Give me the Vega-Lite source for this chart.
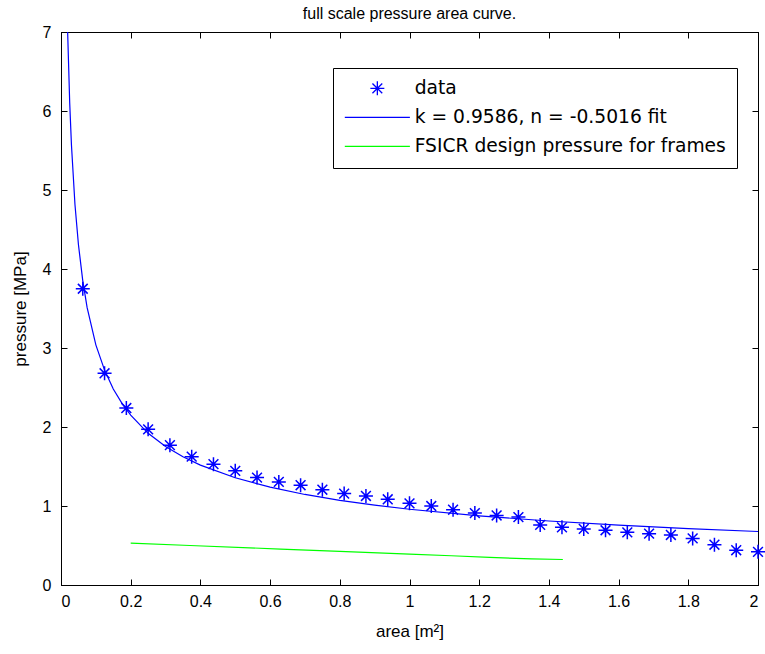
{
  "$schema": "https://vega.github.io/schema/vega-lite/v6.json",
  "width": 697,
  "height": 553,
  "autosize": "none",
  "padding": {"left": 61, "top": 32, "right": 7, "bottom": 69},
  "background": "white",
  "config": {
    "view": {"stroke": "black", "strokeWidth": 1},
    "axis": {
      "domainColor": "black", "tickColor": "black", "labelColor": "black", "titleColor": "black",
      "grid": false, "labelFont": "Liberation Sans", "labelFontSize": 16,
      "titleFont": "Liberation Sans", "titleFontSize": 17, "titleFontWeight": "normal",
      "tickSize": -6, "labelPadding": 14
    },
    "legend": {
      "labelFont": "DejaVu Sans", "labelFontSize": 18.7, "labelColor": "black", "labelLimit": 0,
      "strokeColor": "black", "fillColor": "white", "padding": 11,
      "symbolSize": 196, "symbolStrokeWidth": 1.3, "symbolOffset": 24, "labelOffset": 28,
      "rowPadding": 9, "cornerRadius": 0
    }
  },
  "title": {"text": "full scale pressure area curve.", "font": "Liberation Sans", "fontSize": 16, "fontWeight": "normal", "color": "black", "offset": 2},
  "datasets": {
    "pts": [
      {"area": 0.0625, "pressure": 3.75, "series": "data"},
      {"area": 0.125, "pressure": 2.68, "series": "data"},
      {"area": 0.1875, "pressure": 2.24, "series": "data"},
      {"area": 0.25, "pressure": 1.97, "series": "data"},
      {"area": 0.3125, "pressure": 1.77, "series": "data"},
      {"area": 0.375, "pressure": 1.625, "series": "data"},
      {"area": 0.4375, "pressure": 1.53, "series": "data"},
      {"area": 0.5, "pressure": 1.445, "series": "data"},
      {"area": 0.5625, "pressure": 1.36, "series": "data"},
      {"area": 0.625, "pressure": 1.305, "series": "data"},
      {"area": 0.6875, "pressure": 1.263, "series": "data"},
      {"area": 0.75, "pressure": 1.206, "series": "data"},
      {"area": 0.8125, "pressure": 1.157, "series": "data"},
      {"area": 0.875, "pressure": 1.127, "series": "data"},
      {"area": 0.9375, "pressure": 1.085, "series": "data"},
      {"area": 1.0, "pressure": 1.034, "series": "data"},
      {"area": 1.0625, "pressure": 1.0, "series": "data"},
      {"area": 1.125, "pressure": 0.953, "series": "data"},
      {"area": 1.1875, "pressure": 0.91, "series": "data"},
      {"area": 1.25, "pressure": 0.88, "series": "data"},
      {"area": 1.3125, "pressure": 0.86, "series": "data"},
      {"area": 1.375, "pressure": 0.761, "series": "data"},
      {"area": 1.4375, "pressure": 0.73, "series": "data"},
      {"area": 1.5, "pressure": 0.71, "series": "data"},
      {"area": 1.5625, "pressure": 0.693, "series": "data"},
      {"area": 1.625, "pressure": 0.667, "series": "data"},
      {"area": 1.6875, "pressure": 0.65, "series": "data"},
      {"area": 1.75, "pressure": 0.633, "series": "data"},
      {"area": 1.8125, "pressure": 0.59, "series": "data"},
      {"area": 1.875, "pressure": 0.51, "series": "data"},
      {"area": 1.9375, "pressure": 0.44, "series": "data"},
      {"area": 2.0, "pressure": 0.42, "series": "data"}
    ],
    "fit": [
      {"area": 0.0143, "pressure": 8.08, "series": "k = 0.9586, n = -0.5016 fit"},
      {"area": 0.0188, "pressure": 7.04, "series": "k = 0.9586, n = -0.5016 fit"},
      {"area": 0.025, "pressure": 6.10, "series": "k = 0.9586, n = -0.5016 fit"},
      {"area": 0.03, "pressure": 5.57, "series": "k = 0.9586, n = -0.5016 fit"},
      {"area": 0.04, "pressure": 4.82, "series": "k = 0.9586, n = -0.5016 fit"},
      {"area": 0.05, "pressure": 4.31, "series": "k = 0.9586, n = -0.5016 fit"},
      {"area": 0.0625, "pressure": 3.85, "series": "k = 0.9586, n = -0.5016 fit"},
      {"area": 0.075, "pressure": 3.51, "series": "k = 0.9586, n = -0.5016 fit"},
      {"area": 0.1, "pressure": 3.04, "series": "k = 0.9586, n = -0.5016 fit"},
      {"area": 0.125, "pressure": 2.72, "series": "k = 0.9586, n = -0.5016 fit"},
      {"area": 0.15, "pressure": 2.48, "series": "k = 0.9586, n = -0.5016 fit"},
      {"area": 0.175, "pressure": 2.30, "series": "k = 0.9586, n = -0.5016 fit"},
      {"area": 0.2, "pressure": 2.15, "series": "k = 0.9586, n = -0.5016 fit"},
      {"area": 0.25, "pressure": 1.92, "series": "k = 0.9586, n = -0.5016 fit"},
      {"area": 0.3, "pressure": 1.754, "series": "k = 0.9586, n = -0.5016 fit"},
      {"area": 0.35, "pressure": 1.623, "series": "k = 0.9586, n = -0.5016 fit"},
      {"area": 0.4, "pressure": 1.518, "series": "k = 0.9586, n = -0.5016 fit"},
      {"area": 0.5, "pressure": 1.357, "series": "k = 0.9586, n = -0.5016 fit"},
      {"area": 0.6, "pressure": 1.239, "series": "k = 0.9586, n = -0.5016 fit"},
      {"area": 0.7, "pressure": 1.146, "series": "k = 0.9586, n = -0.5016 fit"},
      {"area": 0.8, "pressure": 1.072, "series": "k = 0.9586, n = -0.5016 fit"},
      {"area": 0.9, "pressure": 1.011, "series": "k = 0.9586, n = -0.5016 fit"},
      {"area": 1.0, "pressure": 0.959, "series": "k = 0.9586, n = -0.5016 fit"},
      {"area": 1.2, "pressure": 0.875, "series": "k = 0.9586, n = -0.5016 fit"},
      {"area": 1.4, "pressure": 0.810, "series": "k = 0.9586, n = -0.5016 fit"},
      {"area": 1.6, "pressure": 0.757, "series": "k = 0.9586, n = -0.5016 fit"},
      {"area": 1.8, "pressure": 0.714, "series": "k = 0.9586, n = -0.5016 fit"},
      {"area": 2.0, "pressure": 0.677, "series": "k = 0.9586, n = -0.5016 fit"}
    ],
    "fsicr": [
      {"area": 0.2, "pressure": 0.53, "series": "FSICR design pressure for frames"},
      {"area": 0.37, "pressure": 0.50, "series": "FSICR design pressure for frames"},
      {"area": 0.63, "pressure": 0.455, "series": "FSICR design pressure for frames"},
      {"area": 0.8, "pressure": 0.425, "series": "FSICR design pressure for frames"},
      {"area": 1.0, "pressure": 0.39, "series": "FSICR design pressure for frames"},
      {"area": 1.12, "pressure": 0.37, "series": "FSICR design pressure for frames"},
      {"area": 1.23, "pressure": 0.35, "series": "FSICR design pressure for frames"},
      {"area": 1.35, "pressure": 0.33, "series": "FSICR design pressure for frames"},
      {"area": 1.44, "pressure": 0.323, "series": "FSICR design pressure for frames"}
    ]
  },
  "layer": [
    {
      "data": {"name": "pts"},
      "mark": {"type": "point", "filled": false, "strokeWidth": 1.5, "opacity": 1, "size": 196},
      "encoding": {
        "x": {"field": "area", "type": "quantitative", "scale": {"domain": [0, 2], "nice": false, "zero": false},
              "axis": {"orient": "bottom", "values": [0, 0.2, 0.4, 0.6, 0.8, 1, 1.2, 1.4, 1.6, 1.8, 2], "format": "~g", "title": "area [m²]", "titlePadding": 14}},
        "y": {"field": "pressure", "type": "quantitative", "scale": {"domain": [0, 7], "nice": false, "zero": false},
              "axis": {"orient": "left", "values": [0, 1, 2, 3, 4, 5, 6, 7], "format": "~g", "title": "pressure [MPa]", "titlePadding": 13, "labelPadding": 16}},
        "color": {"field": "series", "type": "nominal",
                  "scale": {"domain": ["data", "k = 0.9586, n = -0.5016 fit", "FSICR design pressure for frames"], "range": ["#0000ff", "#0000ff", "#00ff00"]},
                  "legend": {"title": null, "orient": "none", "legendX": 272, "legendY": 36}},
        "shape": {"field": "series", "type": "nominal",
                  "scale": {"domain": ["data", "k = 0.9586, n = -0.5016 fit", "FSICR design pressure for frames"], "range": ["M-1,0L1,0M0,-1L0,1M-0.7,-0.7L0.7,0.7M-0.7,0.7L0.7,-0.7", "M-4.65,0L4.65,0", "M-4.65,0L4.65,0"]},
                  "legend": {"title": null, "orient": "none", "legendX": 272, "legendY": 36}}
      }
    },
    {
      "data": {"name": "fit"},
      "mark": {"type": "line", "strokeWidth": 1.2, "clip": true},
      "encoding": {
        "x": {"field": "area", "type": "quantitative", "axis": {"orient": "top", "values": [0, 0.2, 0.4, 0.6, 0.8, 1, 1.2, 1.4, 1.6, 1.8, 2], "labels": false, "title": null}},
        "y": {"field": "pressure", "type": "quantitative", "axis": {"orient": "right", "values": [0, 1, 2, 3, 4, 5, 6, 7], "labels": false, "title": null}},
        "color": {"field": "series", "type": "nominal"}
      }
    },
    {
      "data": {"name": "fsicr"},
      "mark": {"type": "line", "strokeWidth": 1.2, "clip": true},
      "encoding": {
        "x": {"field": "area", "type": "quantitative", "axis": null},
        "y": {"field": "pressure", "type": "quantitative", "axis": null},
        "color": {"field": "series", "type": "nominal"}
      }
    }
  ],
  "resolve": {"axis": {"x": "independent", "y": "independent"}}
}
